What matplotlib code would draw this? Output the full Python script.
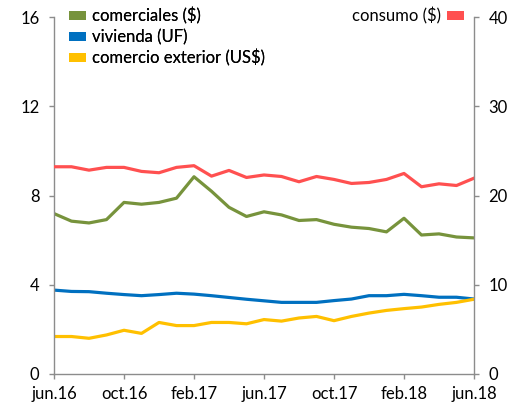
import matplotlib
matplotlib.use("Agg")
import matplotlib.pyplot as plt
from matplotlib.patches import Patch
import numpy as np

months = ["jun.16","jul.16","ago.16","sep.16","oct.16","nov.16","dic.16","ene.17","feb.17","mar.17","abr.17","may.17",
          "jun.17","jul.17","ago.17","sep.17","oct.17","nov.17","dic.17","ene.18","feb.18","mar.18","abr.18","may.18","jun.18"]
tick_labels = ["jun.16","oct.16","feb.17","jun.17","oct.17","feb.18","jun.18"]

comerciales = [7.19,6.85,6.77,6.92,7.69,7.61,7.69,7.88,8.84,8.19,7.47,7.06,7.27,7.13,6.88,6.92,6.71,6.58,6.52,6.37,6.98,6.23,6.28,6.14,6.10]
vivienda = [3.76,3.70,3.69,3.62,3.56,3.51,3.56,3.62,3.58,3.51,3.43,3.35,3.28,3.21,3.21,3.21,3.29,3.36,3.51,3.51,3.57,3.51,3.44,3.44,3.36]
comercio_ext = [1.68,1.68,1.60,1.75,1.96,1.82,2.31,2.17,2.17,2.31,2.31,2.25,2.44,2.37,2.51,2.58,2.39,2.58,2.73,2.85,2.93,3.00,3.12,3.21,3.35]
consumo = [23.22,23.22,22.84,23.15,23.15,22.70,22.55,23.15,23.34,22.17,22.81,22.02,22.30,22.13,21.54,22.13,21.80,21.35,21.46,21.80,22.47,20.98,21.31,21.12,21.94]

c_green = "#77933C"
c_blue = "#0070C0"
c_yellow = "#FFC000"
c_red = "#FF5050"

plt.rcParams['font.family'] = ['Lato', 'DejaVu Sans']
fs = 12

fig = plt.figure(figsize=(5.2, 4.05), dpi=100)
ax = fig.add_axes([54/520, 1-374/405, 420/520, 357/405])
ax2 = ax.twinx()

x = np.arange(len(months))
lw = 2.3
ax.plot(x, comerciales, color=c_green, lw=lw, solid_joinstyle='round')
ax.plot(x, vivienda, color=c_blue, lw=lw, solid_joinstyle='round')
ax.plot(x, comercio_ext, color=c_yellow, lw=lw, solid_joinstyle='round')
ax2.plot(x, consumo, color=c_red, lw=lw, solid_joinstyle='round')

ax.set_xlim(0, len(months)-1)
ax.set_ylim(0, 16)
ax2.set_ylim(0, 40)
ax.set_yticks([0,4,8,12,16])
ax2.set_yticks([0,10,20,30,40])
ax.set_xticks([months.index(t) for t in tick_labels])
ax.set_xticklabels(tick_labels)

spine_c = "#8C8C8C"
for a in (ax, ax2):
    a.spines['top'].set_visible(False)
    for s in ('left','right','bottom'):
        a.spines[s].set_color(spine_c)
        a.spines[s].set_linewidth(1.0)
ax.spines['right'].set_visible(False)
ax2.spines['left'].set_visible(False)
ax2.spines['bottom'].set_visible(False)

ax.tick_params(axis='both', colors=spine_c, labelcolor='black', labelsize=fs, length=3.5, width=1)
ax.tick_params(axis='x', pad=5)
ax.tick_params(axis='y', pad=7)
ax2.tick_params(axis='y', colors=spine_c, labelcolor='black', labelsize=fs, length=3.5, width=1, pad=7)

handles = [Patch(facecolor=c_green, edgecolor='none', label='comerciales ($)'),
           Patch(facecolor=c_blue, edgecolor='none', label='vivienda (UF)'),
           Patch(facecolor=c_yellow, edgecolor='none', label='comercio exterior (US$)')]
common = dict(frameon=False, fontsize=fs, handlelength=1.0, handleheight=0.45, handletextpad=0.4,
              labelspacing=0.25, borderaxespad=0, borderpad=0)
leg1 = ax.legend(handles=handles, loc='upper left', bbox_to_anchor=(0.036, 1.026), **common)
ax.add_artist(leg1)
leg2 = ax2.legend(handles=[Patch(facecolor=c_red, edgecolor='none', label='consumo ($)')], loc='upper right',
                  bbox_to_anchor=(0.976, 1.026), markerfirst=False, **common)

fig.savefig("out.png", dpi=100)
